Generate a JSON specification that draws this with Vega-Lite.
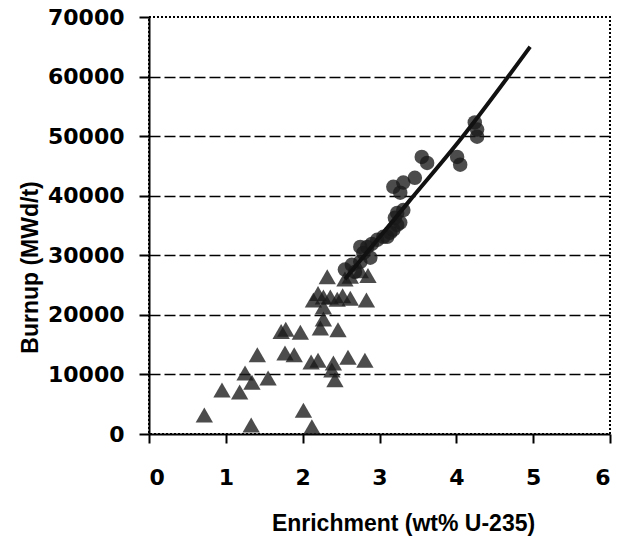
{
  "$schema": "https://vega.github.io/schema/vega-lite/v6.json",
  "width": 461,
  "height": 417,
  "autosize": {"type": "none"},
  "padding": {"left": 149, "top": 17, "right": 11, "bottom": 108},
  "background": "white",
  "config": {
    "view": {"stroke": "black", "strokeWidth": 2, "strokeDash": [2, 2]}
  },
  "datasets": {
    "tri": [
      {"e": 0.72, "b": 3200}, {"e": 0.95, "b": 7400}, {"e": 1.18, "b": 7050},
      {"e": 1.25, "b": 10250}, {"e": 1.34, "b": 8700}, {"e": 1.55, "b": 9400},
      {"e": 1.41, "b": 13300}, {"e": 1.33, "b": 1500}, {"e": 1.72, "b": 17200},
      {"e": 1.78, "b": 17600}, {"e": 1.77, "b": 13600}, {"e": 1.89, "b": 13300},
      {"e": 1.97, "b": 17100}, {"e": 2.01, "b": 4000}, {"e": 2.12, "b": 1200},
      {"e": 2.14, "b": 22500}, {"e": 2.11, "b": 12100}, {"e": 2.2, "b": 12400},
      {"e": 2.23, "b": 17800}, {"e": 2.27, "b": 19300}, {"e": 2.27, "b": 21300},
      {"e": 2.32, "b": 26400}, {"e": 2.27, "b": 23000}, {"e": 2.36, "b": 23000},
      {"e": 2.45, "b": 22600}, {"e": 2.52, "b": 23200}, {"e": 2.62, "b": 22800},
      {"e": 2.83, "b": 22500}, {"e": 2.46, "b": 17500}, {"e": 2.4, "b": 11900},
      {"e": 2.59, "b": 12900}, {"e": 2.81, "b": 12400}, {"e": 2.42, "b": 9100},
      {"e": 2.38, "b": 10750}, {"e": 2.2, "b": 23600}, {"e": 2.62, "b": 26500},
      {"e": 2.75, "b": 27400}, {"e": 2.85, "b": 26600}, {"e": 2.55, "b": 26000}
    ],
    "circ": [
      {"e": 2.68, "b": 27200}, {"e": 2.75, "b": 28900}, {"e": 2.64, "b": 28400},
      {"e": 2.55, "b": 27600}, {"e": 2.88, "b": 29600}, {"e": 2.75, "b": 31400},
      {"e": 2.79, "b": 30400}, {"e": 2.84, "b": 31400}, {"e": 2.9, "b": 31900},
      {"e": 2.97, "b": 32600}, {"e": 3.05, "b": 33100}, {"e": 3.1, "b": 33100},
      {"e": 3.14, "b": 33800}, {"e": 3.18, "b": 34300}, {"e": 3.23, "b": 35100},
      {"e": 3.27, "b": 35500}, {"e": 3.2, "b": 36300}, {"e": 3.23, "b": 37100},
      {"e": 3.31, "b": 37600}, {"e": 3.27, "b": 40500}, {"e": 3.18, "b": 41500},
      {"e": 3.31, "b": 42200}, {"e": 3.46, "b": 43000}, {"e": 3.55, "b": 46500},
      {"e": 3.62, "b": 45500}, {"e": 4.01, "b": 46500}, {"e": 4.05, "b": 45200},
      {"e": 4.24, "b": 52300}, {"e": 4.27, "b": 51100}, {"e": 4.27, "b": 49900}
    ],
    "fit": [
      {"e": 2.55, "b": 26000}, {"e": 3.4, "b": 39300}, {"e": 4.05, "b": 49400}, {"e": 4.96, "b": 65000}
    ]
  },
  "encoding": {
    "x": {
      "field": "e", "type": "quantitative",
      "scale": {"domain": [0, 6], "nice": false},
      "axis": {
        "values": [0, 1, 2, 3, 4, 5, 6],
        "title": "Enrichment (wt% U-235)",
        "grid": false,
        "domainColor": "black", "domainWidth": 2,
        "tickColor": "black", "tickWidth": 2, "tickSize": 9,
        "labelFont": "DejaVu Sans", "labelFontWeight": "bold", "labelFontSize": 22,
        "labelColor": "black", "labelPadding": 24,
        "titleFont": "Liberation Sans", "titleFontWeight": "bold", "titleFontSize": 23,
        "titleColor": "black", "titleX": 254, "titleY": 96, "titleBaseline": "alphabetic"
      }
    },
    "y": {
      "field": "b", "type": "quantitative",
      "scale": {"domain": [0, 70000], "nice": false},
      "axis": {
        "values": [0, 10000, 20000, 30000, 40000, 50000, 60000, 70000],
        "format": "d",
        "title": "Burnup (MWd/t)",
        "grid": true, "gridColor": "black", "gridWidth": 1.5, "gridDash": [11, 4],
        "gridOpacity": {"condition": {"test": "datum.value === 0 || datum.value === 70000", "value": 0}, "value": 1},
        "domainColor": "black", "domainWidth": 2,
        "tickColor": "black", "tickWidth": 2, "tickSize": 10,
        "labelFont": "DejaVu Sans", "labelFontWeight": "bold", "labelFontSize": 22,
        "labelColor": "black", "labelPadding": 15,
        "titleFont": "Liberation Sans", "titleFontWeight": "bold", "titleFontSize": 23,
        "titleColor": "black", "titleX": -112, "titleY": 250, "titleAngle": 270,
        "titleBaseline": "alphabetic", "titleAlign": "center"
      }
    }
  },
  "layer": [
    {
      "data": {"name": "tri"},
      "mark": {"type": "point", "shape": "triangle-up", "filled": true, "size": 300, "color": "#1a1a1a", "opacity": 0.78, "strokeWidth": 0}
    },
    {
      "data": {"name": "circ"},
      "mark": {"type": "point", "shape": "circle", "filled": true, "size": 210, "color": "#1a1a1a", "opacity": 0.78, "strokeWidth": 0}
    },
    {
      "data": {"name": "fit"},
      "mark": {"type": "line", "color": "#111", "strokeWidth": 4, "interpolate": "monotone"}
    }
  ]
}
